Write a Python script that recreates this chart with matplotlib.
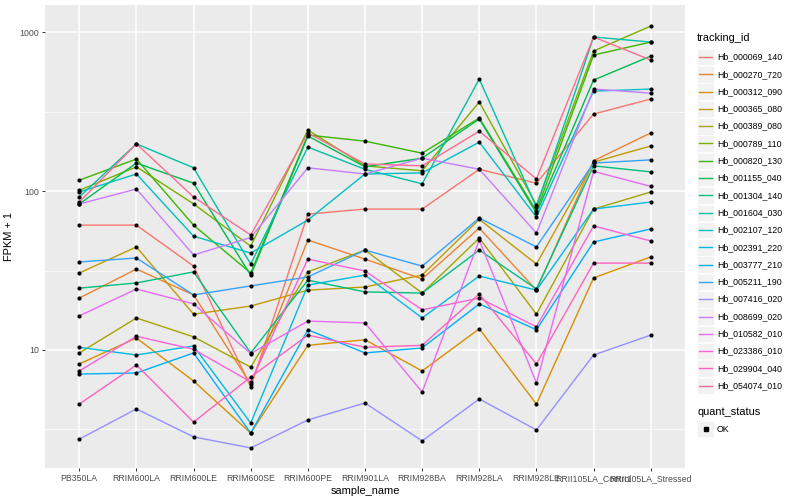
import matplotlib
matplotlib.use('Agg')
import matplotlib.pyplot as plt
from matplotlib.lines import Line2D
from matplotlib.patches import Rectangle

plt.rcParams['font.family'] = ['Liberation Sans', 'DejaVu Sans']

samples = ['PB350LA', 'RRIM600LA', 'RRIM600LE', 'RRIM600SE', 'RRIM600PE', 'RRIM901LA',
           'RRIM928BA', 'RRIM928LA', 'RRIM928LE', 'RRII105LA_Control', 'RRII105LA_Stressed']

# FPKM + 1 per gene
Hb_000069_140 = [61, 61, 33.7, 5.85, 71.6, 77, 77, 137, 112, 305, 379]
Hb_000270_720 = [21.2, 32.3, 22.2, 6.1, 49.2, 37.3, 28, 58.5, 23.8, 155, 232]
Hb_000312_090 = [8.17, 11.9, 6.38, 3.0, 10.7, 11.6, 7.38, 13.6, 4.57, 28.4, 38.5]
Hb_000365_080 = [30.5, 44.5, 16.8, 18.9, 23.8, 24.9, 29.6, 66.4, 34.7, 152, 192]
Hb_000389_080 = [9.58, 15.9, 12.1, 7.8, 31, 42.5, 22.8, 50.6, 16.8, 77, 98.6]
Hb_000789_110 = [101, 142, 83, 45, 242, 144, 134, 363, 81.6, 760, 1090]
Hb_000820_130 = [117, 159, 61, 30.5, 225, 206, 173, 288, 74.8, 717, 865]
Hb_001155_040 = [82.9, 150, 112, 29.5, 222, 142, 161, 284, 72.7, 499, 706]
Hb_001304_140 = [24.5, 26.4, 31, 9.58, 27.5, 23.2, 22.8, 42.5, 24.2, 144, 132]
Hb_001604_030 = [91.7, 198, 140, 34.7, 189, 137, 111, 506, 79.3, 931, 865]
Hb_002107_120 = [98.6, 128, 52, 40.7, 65.7, 128, 130, 203, 68.5, 425, 438]
Hb_002391_220 = [10.4, 9.3, 10.6, 3.47, 25.6, 29.6, 15.9, 29.2, 23.8, 77, 85.3]
Hb_003777_210 = [7.06, 7.17, 9.58, 3.0, 13.4, 9.58, 10.3, 19.5, 13.4, 47.8, 57.7]
Hb_005211_190 = [35.8, 37.9, 22.2, 25.3, 28.8, 42.5, 33.7, 67.6, 44.5, 150, 157]
Hb_007416_020 = [2.75, 4.26, 2.84, 2.42, 3.63, 4.64, 2.68, 4.92, 3.14, 9.3, 12.4]
Hb_008699_020 = [82.9, 103, 39.6, 51, 140, 128, 161, 137, 54.4, 438, 413]
Hb_010582_010 = [16.4, 24.2, 19.5, 9.5, 15.2, 14.8, 5.44, 49.2, 6.2, 133, 107]
Hb_023386_010 = [7.38, 12.2, 10.1, 6.3, 37.3, 31.4, 17.9, 21.2, 14, 60.3, 48.5]
Hb_029904_040 = [4.57, 8.05, 3.52, 6.76, 12.4, 10.4, 10.7, 22.5, 8.17, 35.2, 35.2]
Hb_054074_010 = [85.3, 198, 91.7, 52.9, 232, 148, 144, 238, 119, 931, 667]

genes = ['Hb_000069_140', 'Hb_000270_720', 'Hb_000312_090', 'Hb_000365_080', 'Hb_000389_080',
         'Hb_000789_110', 'Hb_000820_130', 'Hb_001155_040', 'Hb_001304_140', 'Hb_001604_030',
         'Hb_002107_120', 'Hb_002391_220', 'Hb_003777_210', 'Hb_005211_190', 'Hb_007416_020',
         'Hb_008699_020', 'Hb_010582_010', 'Hb_023386_010', 'Hb_029904_040', 'Hb_054074_010']
values = [Hb_000069_140, Hb_000270_720, Hb_000312_090, Hb_000365_080, Hb_000389_080,
          Hb_000789_110, Hb_000820_130, Hb_001155_040, Hb_001304_140, Hb_001604_030,
          Hb_002107_120, Hb_002391_220, Hb_003777_210, Hb_005211_190, Hb_007416_020,
          Hb_008699_020, Hb_010582_010, Hb_023386_010, Hb_029904_040, Hb_054074_010]

# ggplot default hue palette for 20 levels
colors = ['#F8766D', '#EA8331', '#D89000', '#C09B00', '#A3A500', '#7CAE00', '#39B600',
          '#00BB4E', '#00BF7D', '#00C1A3', '#00BFC4', '#00BAE0', '#00B0F6', '#35A2FF',
          '#9590FF', '#C77CFF', '#E76BF3', '#FA62DB', '#FF62BC', '#FF6C91']

fig = plt.figure(figsize=(8, 5), dpi=100)
ax = fig.add_axes([45 / 800, 1 - 468 / 500, 640 / 800, 463 / 500])
ax.set_facecolor('#EBEBEB')
for s in ax.spines.values():
    s.set_visible(False)

x = list(range(len(samples)))
for name, vals, c in zip(genes, values, colors):
    ax.plot(x, vals, color=c, lw=1.0, zorder=3)
for vals in values:
    ax.plot(x, vals, 'o', color='black', ms=3.0, mew=0, zorder=4)

ax.set_yscale('log')
ax.set_ylim(1.81, 1480)
ax.set_xlim(-0.6, len(samples) - 0.4)
ax.set_yticks([10, 100, 1000])
ax.set_yticklabels(['10', '100', '1000'])
ax.set_yticks([10 ** 0.5, 10 ** 1.5, 10 ** 2.5], minor=True)
ax.yaxis.set_minor_formatter(plt.NullFormatter())
ax.set_xticks(x)
ax.set_xticklabels(samples)
ax.grid(True, which='major', color='white', lw=1.1, zorder=0)
ax.grid(True, which='minor', axis='y', color='white', lw=0.5, zorder=0)
ax.set_axisbelow(True)
ax.tick_params(axis='both', which='major', length=2.5, width=0.7, color='#333333',
               labelsize=6.3, labelcolor='#4D4D4D', pad=2)
ax.tick_params(axis='y', which='minor', length=0)
ax.set_xlabel('sample_name', fontsize=7.9, labelpad=2)
ax.set_ylabel('FPKM + 1', fontsize=7.9, labelpad=4)


def fx(px):
    return px / 800


def fy(py):
    return 1 - py / 500


# legend: tracking_id
fig.text(fx(697), fy(38), 'tracking_id', fontsize=7.9, va='center', ha='left')
for i, (name, c) in enumerate(zip(genes, colors)):
    yc = 57 + i * 17.3
    fig.add_artist(Rectangle((fx(697), fy(yc + 8.3)), 16.5 / 800, 16.5 / 500,
                             transform=fig.transFigure, facecolor='#F2F2F2', edgecolor='white', lw=0.5))
    fig.add_artist(Line2D([fx(699), fx(712)], [fy(yc), fy(yc)], transform=fig.transFigure,
                          color=c, lw=1.0))
    fig.text(fx(717), fy(yc), name, fontsize=6.3, va='center', ha='left')

# legend: quant_status
fig.text(fx(697), fy(412), 'quant_status', fontsize=7.9, va='center', ha='left')
fig.add_artist(Rectangle((fx(697), fy(429 + 8.3)), 16.5 / 800, 16.5 / 500,
                         transform=fig.transFigure, facecolor='#F2F2F2', edgecolor='white', lw=0.5))
fig.add_artist(Line2D([fx(705.5)], [fy(429)], transform=fig.transFigure, marker='s',
                      color='black', ms=2.6, lw=0))
fig.text(fx(717), fy(429), 'OK', fontsize=6.3, va='center', ha='left')

fig.savefig('out.png', dpi=100)
